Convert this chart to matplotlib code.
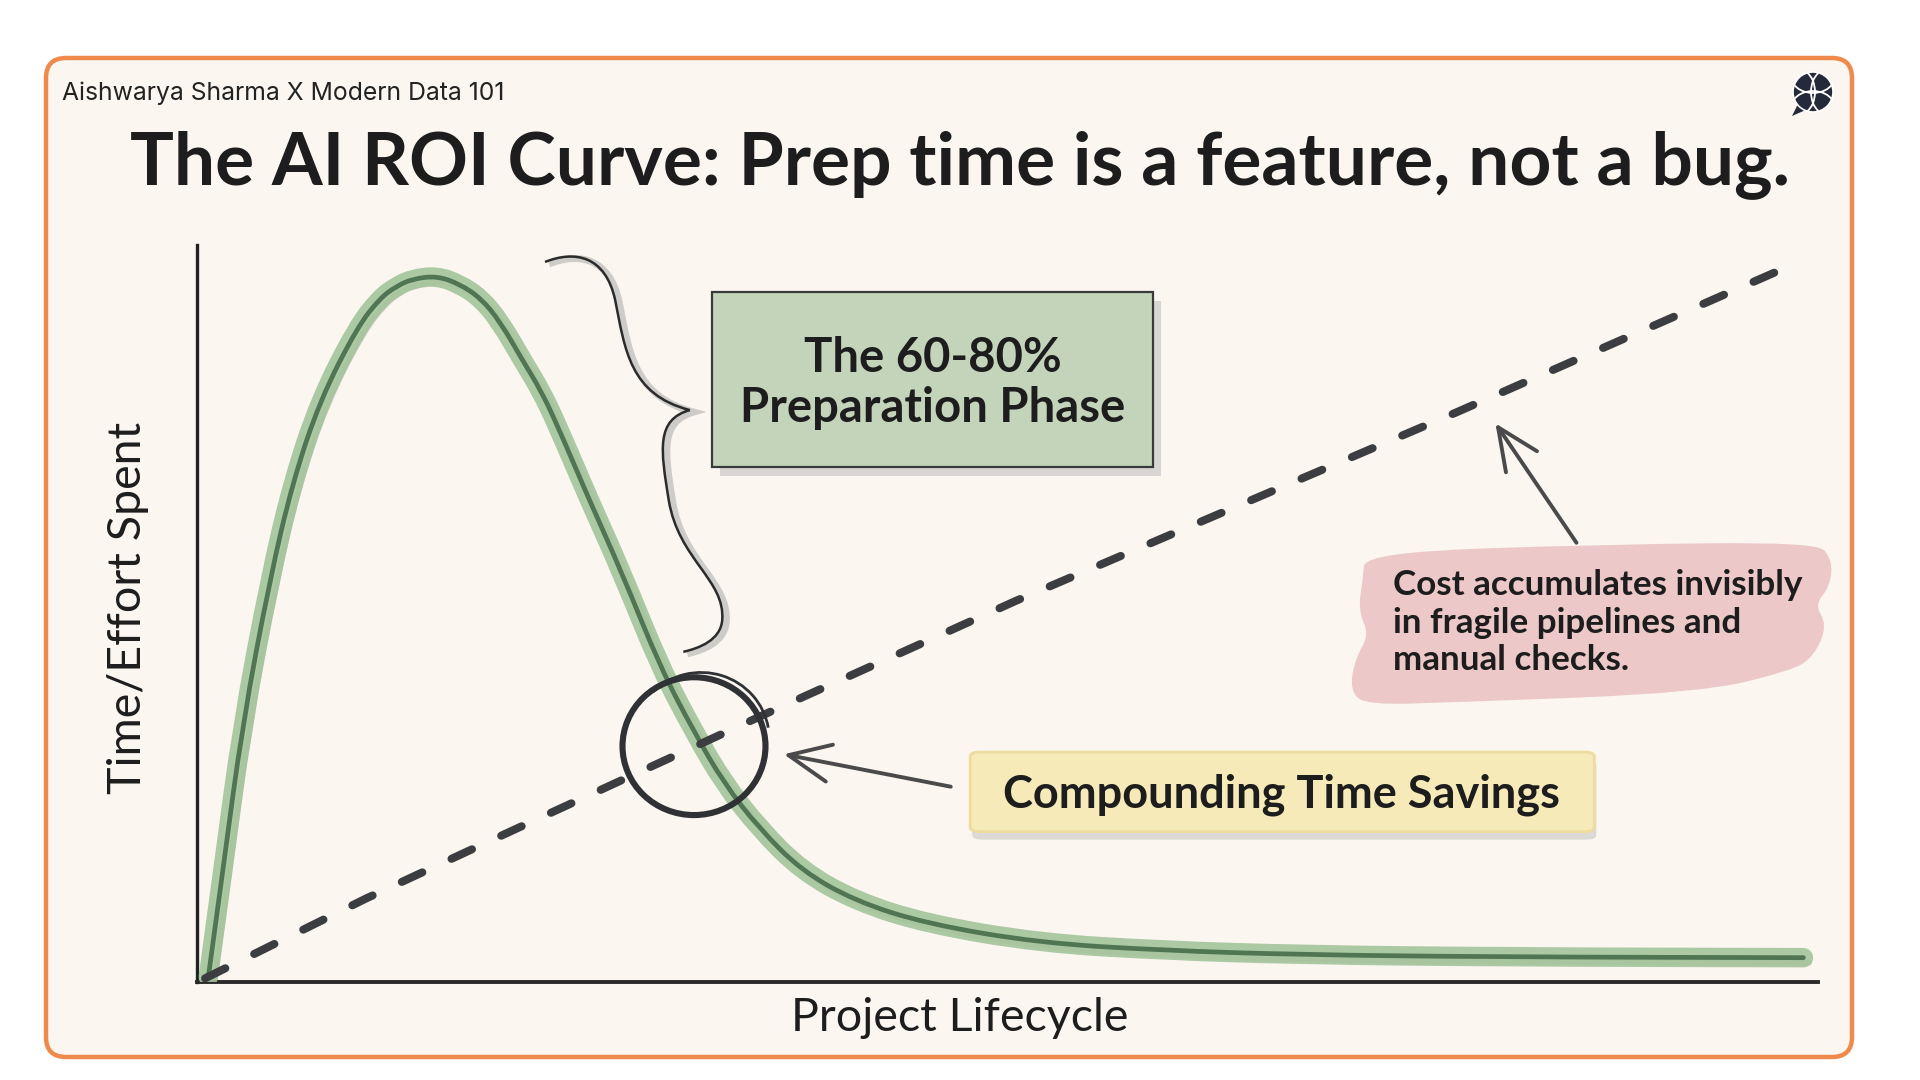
import matplotlib
matplotlib.use("Agg")
import matplotlib.pyplot as plt
from matplotlib.patches import FancyBboxPatch, Ellipse, Polygon, Circle, Arc, PathPatch, Rectangle
from matplotlib.path import Path
import matplotlib.transforms as mtransforms

plt.rcParams['font.family'] = ['Lato', 'DejaVu Sans']

# ---------------- data ----------------
# "Time/effort" curve (green) across the project lifecycle (0-100 scale)
lifecycle_x = [0.7, 1.6, 2.8, 4.5, 5.9, 7.6, 9.9, 11.3, 12.3, 13.3, 14.8, 16.2, 17.5,
               18.7, 20.1, 21.2, 22.2, 24.1, 26.2, 28.6, 30.7, 32.5, 34.7, 37.3, 40.6,
               45.0, 52.0, 59.5, 68.0, 80.4, 99.1]
effort_y = [0.7, 15.2, 34.9, 54.7, 67.8, 79.0, 88.9, 92.8, 94.4, 95.4, 95.8, 94.7, 92.8,
            89.6, 84.3, 80.3, 75.7, 65.9, 55.6, 42.6, 33.8, 27.0, 20.8, 15.1, 11.0,
            7.9, 5.3, 4.3, 3.7, 3.4, 3.3]
# Hidden cost line (dashed)
cost_x = [0.5, 10.4, 19.7, 35.3, 50.5, 77.7, 98.5]
cost_y = [0.5, 11.3, 20.8, 36.6, 51.7, 77.3, 97.4]

title = "The AI ROI Curve: Prep time is a feature, not a bug."
byline = "Aishwarya Sharma X Modern Data 101"
x_label = "Project Lifecycle"
y_label = "Time/Effort Spent"
prep_lines = ["The 60-80%", "Preparation Phase"]
cost_lines = ["Cost accumulates invisibly", "in fragile pipelines and", "manual checks."]
savings_text = "Compounding Time Savings"


def smooth_path(xs, ys, closed=False):
    """Path through the given points, rounded with quadratic Bezier joins."""
    pts = list(zip(xs, ys))
    if closed:
        pts = pts + pts[:2]
        mids = [((pts[i][0] + pts[i + 1][0]) / 2, (pts[i][1] + pts[i + 1][1]) / 2)
                for i in range(len(pts) - 1)]
        verts = [mids[0]]
        codes = [Path.MOVETO]
        for i in range(1, len(mids)):
            verts += [pts[i], mids[i]]
            codes += [Path.CURVE3, Path.CURVE3]
        verts.append(mids[0])
        codes.append(Path.CLOSEPOLY)
        return Path(verts, codes)
    verts = [pts[0]]
    codes = [Path.MOVETO]
    for i in range(1, len(pts) - 1):
        m = ((pts[i][0] + pts[i + 1][0]) / 2, (pts[i][1] + pts[i + 1][1]) / 2)
        verts += [pts[i], m]
        codes += [Path.CURVE3, Path.CURVE3]
    verts.append(pts[-1])
    codes.append(Path.LINETO)
    return Path(verts, codes)


# ---------------- figure ----------------
W, H = 1920, 1080
fig = plt.figure(figsize=(W / 100, H / 100), dpi=100, facecolor="white")

# background / frame layer (pixel coordinates)
bg = fig.add_axes([0, 0, 1, 1], zorder=0)
bg.set_xlim(0, W)
bg.set_ylim(0, H)
bg.axis("off")
frame = FancyBboxPatch((46, 23), 1806, 999,
                       boxstyle="round,pad=0,rounding_size=20",
                       facecolor="#fbf6f0", edgecolor="#ee8a4c", linewidth=3.2)
bg.add_patch(frame)

# logo (globe speech bubble)
lc = (1813, 988)
bg.add_patch(Polygon([(1799, 978), (1792, 964), (1808, 971)], closed=True,
                     facecolor="#252a3b", edgecolor="none"))
bg.add_patch(Circle(lc, 20, facecolor="#252a3b", edgecolor="white", linewidth=1.2))
for (cx, cy, w, h, t1, t2) in [(1813, 972, 44, 34, 20, 160), (1813, 1004, 44, 34, 200, 340),
                               (1800, 988, 30, 44, -70, 70), (1826, 988, 30, 44, 110, 250)]:
    bg.add_patch(Arc((cx, cy), w, h, theta1=t1, theta2=t2, color="white", linewidth=1.3))

fig.text(62 / W, 1 - 100 / H, byline, fontsize=17.8, color="#222222",
         ha="left", va="baseline", family=["Inter", "DejaVu Sans"])
fig.text(0.5, 1 - 184 / H, title, fontsize=52.7, fontweight="bold", color="#1d1d1d",
         ha="center", va="baseline")

# ---------------- main chart ----------------
ax = fig.add_axes([197 / W, 1 - 982 / H, 1621 / W, 737 / H], zorder=2)
ax.set_facecolor("none")
ax.set_xlim(0, 100)
ax.set_ylim(0, 100)
for s in ["top", "right"]:
    ax.spines[s].set_visible(False)
ax.spines["left"].set_linewidth(2.4)
ax.spines["bottom"].set_linewidth(2.8)
ax.spines["left"].set_color("#222222")
ax.spines["bottom"].set_color("#2a2a2a")
ax.set_xticks([])
ax.set_yticks([])

ax.set_xlabel(x_label, fontsize=33.5, color="#1d1d1d", va="center")
ax.xaxis.set_label_coords(0.4707, -0.0488)
ax.set_ylabel(y_label, fontsize=33.5, color="#1d1d1d", va="center")
ax.yaxis.set_label_coords(-0.0423, 0.508)

# green curve: pencil shadow, soft band, core line
curve = smooth_path(lifecycle_x, effort_y)
shadow_tr = mtransforms.offset_copy(ax.transData, fig=fig, x=6, y=-5, units="dots")
ax.add_patch(PathPatch(curve, fill=False, edgecolor="#8f8f8f", alpha=0.35, linewidth=4,
                       transform=shadow_tr, capstyle="round", zorder=2))
ax.add_patch(PathPatch(curve, fill=False, edgecolor="#a3c49b", alpha=0.9, linewidth=14,
                       capstyle="round", joinstyle="round", zorder=3))
ax.add_patch(PathPatch(curve, fill=False, edgecolor="#4f7553", linewidth=3.4,
                       capstyle="round", joinstyle="round", zorder=4))

# dashed cost line
ax.plot(cost_x, cost_y, color="#3c3d40", linewidth=5.8,
        linestyle=(0, (2.8, 4.0)), dash_capstyle="round", zorder=5)

# circle at the crossover
ax.add_patch(Ellipse((30.66, 32.0), 8.82, 18.7, fill=False, edgecolor="#2f3134",
                     linewidth=4.4, zorder=6))
ax.add_patch(Arc((31.1, 33.0), 8.4, 18.0, theta1=20, theta2=115, edgecolor="#2f3134",
                 linewidth=2.0, zorder=6))

# brace next to the preparation phase
brace_verts = [(21.47, 97.7), (23.3, 99.3), (25.2, 98.6), (25.8, 92.5),
               (26.4, 85.8), (26.7, 79.7), (30.4, 77.6),
               (28.3, 76.3), (28.6, 72.2), (29.1, 65.4),
               (29.7, 57.3), (32.6, 54.6), (32.4, 49.1),
               (32.3, 46.4), (31.0, 45.3), (30.0, 44.8)]
brace_codes = [Path.MOVETO] + [Path.CURVE4] * 15
brace = Path(brace_verts, brace_codes)
sh_tr = mtransforms.offset_copy(ax.transData, fig=fig, x=4, y=-2, units="dots")
ax.add_patch(PathPatch(brace, fill=False, edgecolor="#b0b0b0", linewidth=5, alpha=0.6,
                       transform=sh_tr, clip_on=False, zorder=2))
ax.add_patch(PathPatch(brace, fill=False, edgecolor="#2b2b2b", linewidth=1.8,
                       clip_on=False, zorder=3))

# green preparation box
box_sh = mtransforms.offset_copy(ax.transData, fig=fig, x=8, y=-9, units="dots")
ax.add_patch(Rectangle((31.8, 69.9), 27.2, 23.7, facecolor="#9a9a9a", alpha=0.35,
                       edgecolor="none", transform=box_sh, zorder=6))
ax.add_patch(Rectangle((31.8, 69.9), 27.2, 23.7, facecolor="#c3d4bb",
                       edgecolor="#3a3a3a", linewidth=1.6, zorder=7))
ax.text(45.4, 82.77, prep_lines[0], fontsize=34, fontweight="bold", color="#1d1d1d",
        ha="center", va="baseline", zorder=8)
ax.text(45.4, 75.98, prep_lines[1], fontsize=34, fontweight="bold", color="#1d1d1d",
        ha="center", va="baseline", zorder=8)

# pink brush-stroke note
pink_x = [72.2, 86.6, 99.8, 100.7, 100.6, 99.6, 100.4, 99.6, 98.3, 92.7,
          77.3, 72.2, 71.3, 71.6, 72.5, 71.8, 72.1]
pink_y = [57.9, 59.0, 59.3, 57.3, 53.9, 51.2, 48.4, 44.4, 42.6, 39.6,
          38.3, 38.0, 39.6, 43.7, 47.1, 50.5, 54.6]
ax.add_patch(PathPatch(smooth_path(pink_x, pink_y, closed=True), facecolor="#ecc9c8",
                       edgecolor="#ecc9c8", linewidth=4, clip_on=False, zorder=6))
for txt, yb in zip(cost_lines, [52.51, 47.42, 42.33]):
    ax.text(73.8, yb, txt, fontsize=25.2, fontweight="bold", color="#1d1d1d",
            ha="left", va="baseline", zorder=8)

# yellow savings box
ysh = mtransforms.offset_copy(ax.transData, fig=fig, x=2, y=-8, units="dots")
ax.add_patch(FancyBboxPatch((47.7, 20.4), 38.5, 10.8,
                            boxstyle="round,pad=0,rounding_size=0.6",
                            facecolor="#9a9a9a", alpha=0.3, edgecolor="none",
                            transform=ysh, zorder=6))
ax.add_patch(FancyBboxPatch((47.7, 20.4), 38.5, 10.8,
                            boxstyle="round,pad=0,rounding_size=0.6",
                            facecolor="#f6eab9", edgecolor="#eddca0", linewidth=2, zorder=7))
ax.text(66.9, 23.74, savings_text, fontsize=32.5, fontweight="bold", color="#1d1d1d",
        ha="center", va="baseline", zorder=8)

# arrows
arrow_kw = dict(arrowstyle="->,head_length=1.0,head_width=0.45", color="#4a4a4a",
                linewidth=2.8, mutation_scale=30, shrinkA=0, shrinkB=0)
ax.annotate("", xy=(36.2, 30.9), xytext=(46.5, 26.5), arrowprops=arrow_kw, zorder=8)
ax.annotate("", xy=(80.1, 75.8), xytext=(85.1, 59.6), arrowprops=arrow_kw, zorder=8)

fig.savefig("out.png", dpi=100, facecolor="white")
